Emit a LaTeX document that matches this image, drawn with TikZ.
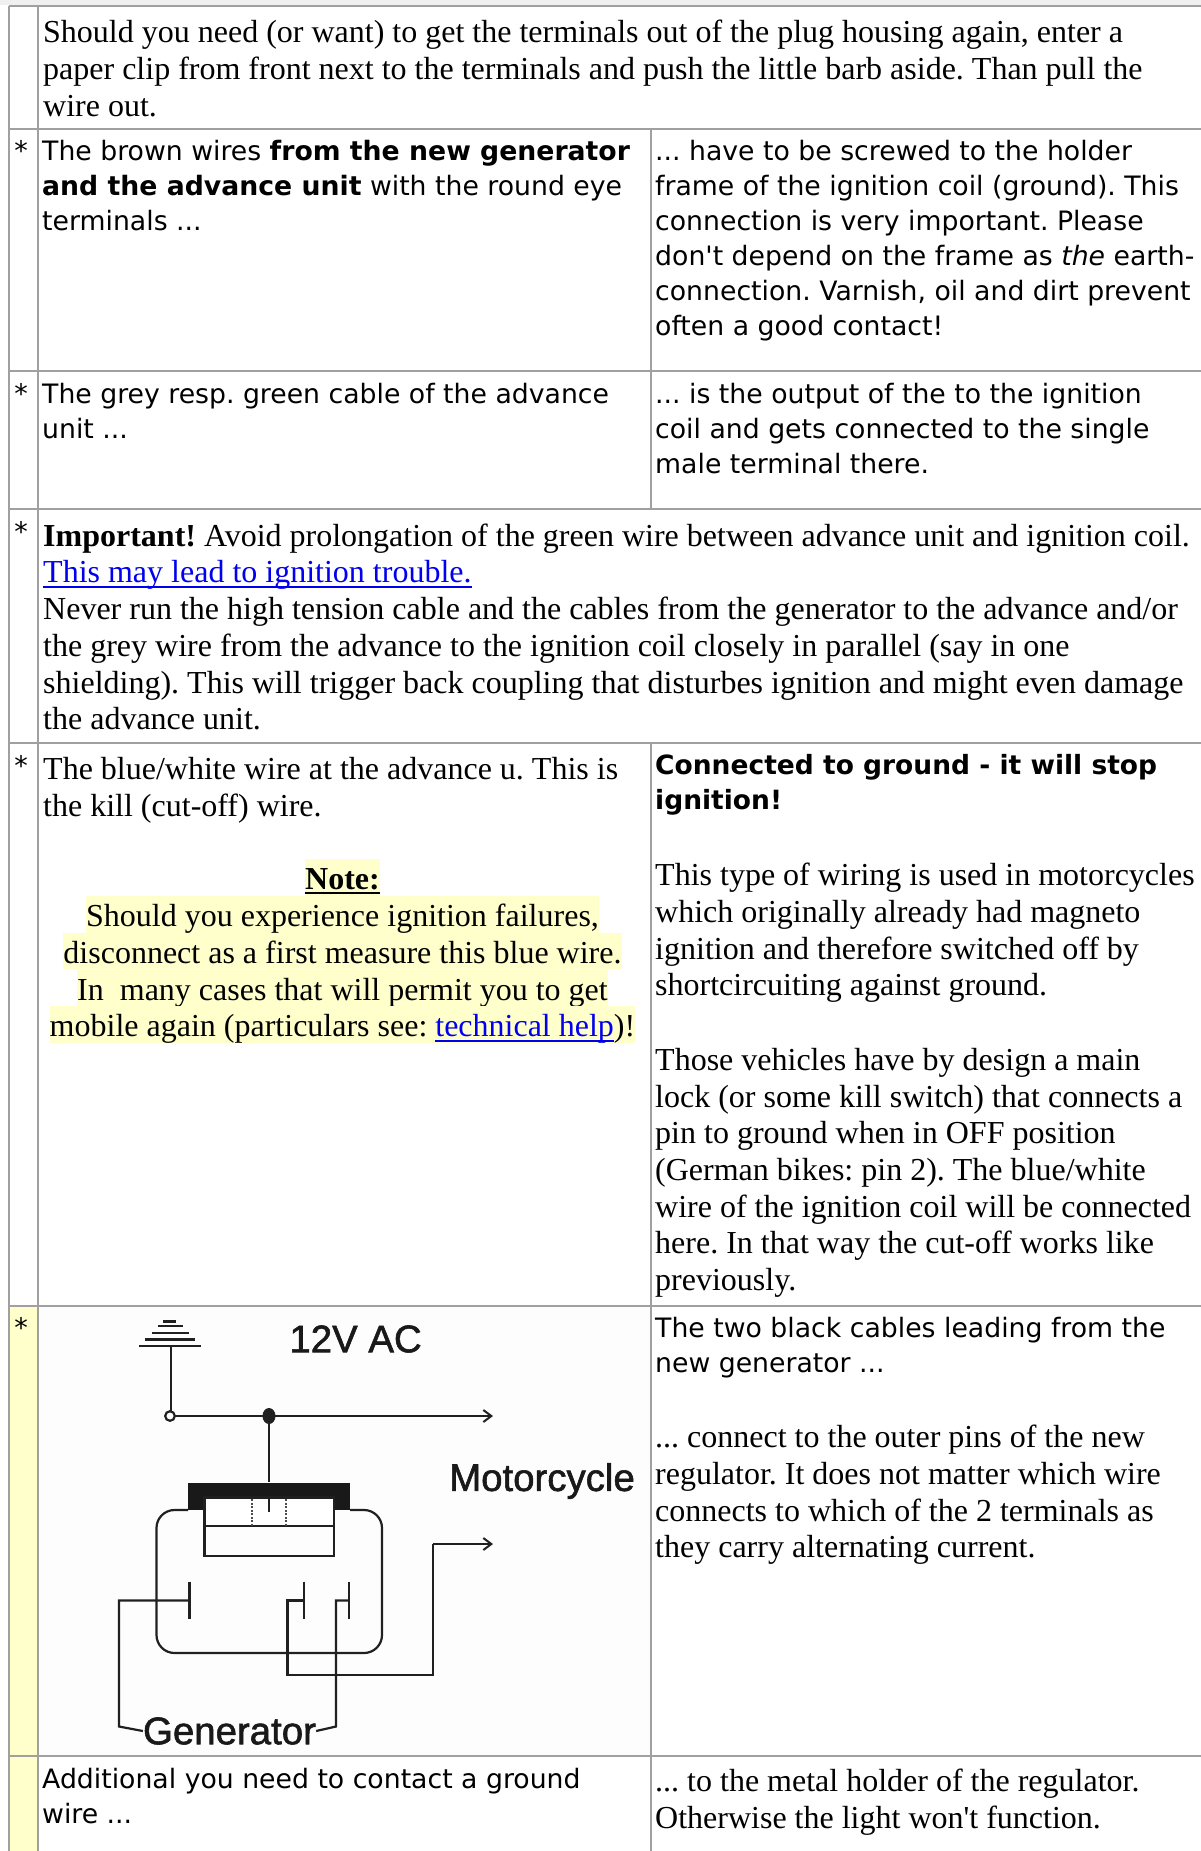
\documentclass[tikz,border=0pt]{standalone}
\usepackage{fontspec}
\setmainfont{Liberation Serif}
\newfontfamily\tplain{Liberation Serif}
\newfontfamily\vsans{DejaVu Sans}
\newfontfamily\asans[FakeBold=1.5]{Liberation Sans}
\definecolor{gridc}{HTML}{A0A0A0}
\definecolor{cream}{HTML}{FFFFCC}
\definecolor{imgbg}{HTML}{FCFDFC}
\definecolor{wire}{HTML}{202020}
\definecolor{linkc}{HTML}{0000EE}
\newsavebox\lnkbox
\newcommand{\lnk}[1]{\sbox\lnkbox{\textcolor{linkc}{#1}}\textcolor{linkc}{\rlap{\rule[-5pt]{\wd\lnkbox}{1.6pt}}}\usebox\lnkbox}
\frenchspacing
\tikzset{x=1pt,y=-1pt,
 grid/.style={draw=gridc,line width=2.4pt},
 ts/.style={anchor=north west,inner sep=0pt,align=left,font=\frenchspacing\tplain\fontsize{32}{36.7}\selectfont},
 vs/.style={anchor=north west,inner sep=0pt,align=left,font=\frenchspacing\vsans\fontsize{26.7}{35}\selectfont},
 star/.style={anchor=center,inner sep=0pt,font=\vsans\fontsize{27}{27}\selectfont},
 note/.style={anchor=center,inner sep=0pt,fill=cream,text height=30.7pt,text depth=6pt,font=\frenchspacing\tplain\fontsize{32}{36.7}\selectfont},
 wirel/.style={draw=wire,line width=2.2pt},
 arr/.style={wirel,-{Straight Barb[length=8pt,width=12pt,line width=2pt]}},
 lab/.style={inner sep=0pt,font=\asans\fontsize{38.4}{38.4}\selectfont,text=black!90}
}
\usetikzlibrary{arrows.meta}
\begin{document}
\begin{tikzpicture}
\useasboundingbox (0,0) rectangle (1201,1851);
\fill[white] (0,0) rectangle (1201,1851);
\fill[black!6] (0,0) rectangle (1201,5);
% cell fills
\fill[cream] (9,1307) rectangle (38,1851);
\fill[imgbg] (38,1307) rectangle (651,1756);
% grid
\draw[grid] (9,6) -- (1201,6);
\draw[grid] (9,129) -- (1201,129);
\draw[grid] (9,371) -- (1201,371);
\draw[grid] (9,509) -- (1201,509);
\draw[grid] (9,743) -- (1201,743);
\draw[grid] (9,1306) -- (1201,1306);
\draw[grid] (9,1756) -- (1201,1756);
\draw[grid] (9,6) -- (9,1851);
\draw[grid] (38,6) -- (38,1851);
\draw[grid] (651,129) -- (651,509);
\draw[grid] (651,743) -- (651,1851);
% stars
\node[star] (s1) at (21,150) {*};
\node[star] (s2) at (21,393) {*};
\node[star] (s3) at (21,531) {*};
\node[star] (s4) at (21,765) {*};
\node[star] (s5) at (21,1327) {*};
% row 1
\node[ts] (r1) at (43,20) {Should you need (or want) to get the terminals out of the plug housing again, enter a\\paper clip from front next to the terminals and push the little barb aside. Than pull the\\wire out.};
% row 2
\node[vs] (r2l) at (42,140) {The brown wires \textbf{from the new generator}\\\textbf{and the advance unit} with the round eye\\terminals ...};
\node[vs] (r2r) at (655,140) {... have to be screwed to the holder\\frame of the ignition coil (ground). This\\connection is very important. Please\\don't depend on the frame as \textit{the} earth-\\connection. Varnish, oil and dirt prevent\\often a good contact!};
% row 3
\node[vs] (r3l) at (42,383) {The grey resp. green cable of the advance\\unit ...};
\node[vs] (r3r) at (655,383) {... is the output of the to the ignition\\coil and gets connected to the single\\male terminal there.};
% row 4
\node[ts] (r4) at (43,523.5) {\textbf{Important!} Avoid prolongation of the green wire between advance unit and ignition coil.\\\lnk{This may lead to ignition trouble.}\\Never run the high tension cable and the cables from the generator to the advance and/or\\the grey wire from the advance to the ignition coil closely in parallel (say in one\\shielding). This will trigger back coupling that disturbes ignition and might even damage\\the advance unit.};
% row 5 left
\node[ts] (r5l) at (43,757) {The blue/white wire at the advance u. This is\\the kill (cut-off) wire.};
\node[note] (n0) at (342.5,877.5) {\textbf{Note:}};
\node[note] (n1) at (342.5,914.5) {Should you experience ignition failures,};
\node[note] (n2) at (342.5,951) {disconnect as a first measure this blue wire.};
\node[note] (n3) at (342.5,988) {In\ \ many cases that will permit you to get};
\node[note] (n4) at (342.5,1024.5) {mobile again (particulars see: \lnk{technical help})!};
\draw[draw=black,line width=2.2pt] ([yshift=3pt]n0.south west) -- ([yshift=3pt]n0.south east);
% row 5 right
\node[vs,font=\frenchspacing\vsans\fontsize{26.5}{35}\selectfont] (r5a) at (655,754.5) {\textbf{Connected to ground - it will stop}\\\textbf{ignition!}};
\node[ts] (r5b) at (655,863) {This type of wiring is used in motorcycles\\which originally already had magneto\\ignition and therefore switched off by\\shortcircuiting against ground.};
\node[ts] (r5c) at (655,1048) {Those vehicles have by design a main\\lock (or some kill switch) that connects a\\pin to ground when in OFF position\\(German bikes: pin 2). The blue/white\\wire of the ignition coil will be connected\\here. In that way the cut-off works like\\previously.};
% row 6 right
\node[vs] (r6a) at (655,1316.5) {The two black cables leading from the\\new generator ...};
\node[ts] (r6b) at (655,1425) {... connect to the outer pins of the new\\regulator. It does not matter which wire\\connects to which of the 2 terminals as\\they carry alternating current.};
% row 7
\node[vs] (r7l) at (42,1768) {Additional you need to contact a ground\\wire ...};
\node[ts] (r7r) at (655,1769) {... to the metal holder of the regulator.\\Otherwise the light won't function.};
% schematic
\node[lab] (l12) at (355.6,1339) {12V AC};
\node[lab] (lmo) at (542,1481) {Motorcycle};
\node[lab] (lge) at (229.5,1731) {Generator};
\coordinate (gt) at (171,1346);
\coordinate (oc) at (170,1416);
\coordinate (jn) at (269,1416);
\coordinate (a1) at (493,1416);
\coordinate (a2) at (493,1544);
\draw[wirel] (139,1346) -- (201,1346);
\draw[wirel] (145,1339.5) -- (195,1339.5);
\draw[wirel] (152,1333) -- (189,1333);
\draw[wirel] (158,1326) -- (183,1326);
\draw[wirel] (163,1321.5) -- (176,1321.5);
\draw[wirel] (gt) -- (171,1411);
\draw[arr] (175,1416) -- (a1);
\draw[wirel,fill=white] (oc) circle (4.8pt);
\fill[wire] (jn) ellipse (6.5pt and 8pt);
\draw[wirel] (jn) -- (269,1482);
% regulator
\draw[wirel,rounded corners=18pt] (188,1510) -- (156.5,1510) -- (156.5,1653) -- (382,1653) -- (382,1510) -- (350,1510);
\fill[black!90] (188,1482.5) rectangle (350,1510);
\fill[white] (205,1497.5) rectangle (332.5,1526);
\draw[wirel,fill=imgbg] (204.5,1497.5) rectangle (334,1556);
\fill[white] (205.5,1498.5) rectangle (333,1526);
\draw[wirel] (204.5,1526) -- (334,1526);
\draw[draw=black!70,line width=1.6pt,dash pattern=on 2pt off 1.5pt] (251.7,1499) -- (251.7,1526);
\draw[draw=black!70,line width=1.6pt,dash pattern=on 2pt off 1.5pt] (286,1499) -- (286,1526);
\draw[wirel] (269,1497) -- (269,1512);
% terminals
\draw[wirel] (189.4,1581.6) -- (189.4,1619);
\draw[wirel] (304,1581.6) -- (304,1619);
\draw[wirel] (349,1581.6) -- (349,1619);
\draw[wirel] (189.4,1600.5) -- (119,1600.5) -- (119,1726.5) -- (lge.west);
\draw[wirel] (lge.east) -- (336,1726.5) -- (336,1600.5) -- (349,1600.5);
\draw[wirel] (304,1600.5) -- (287.5,1600.5) -- (287.5,1674.6) -- (432.6,1674.6) -- (432.6,1544);
\draw[arr] (432.6,1544) -- (a2);
\end{tikzpicture}
\end{document}
